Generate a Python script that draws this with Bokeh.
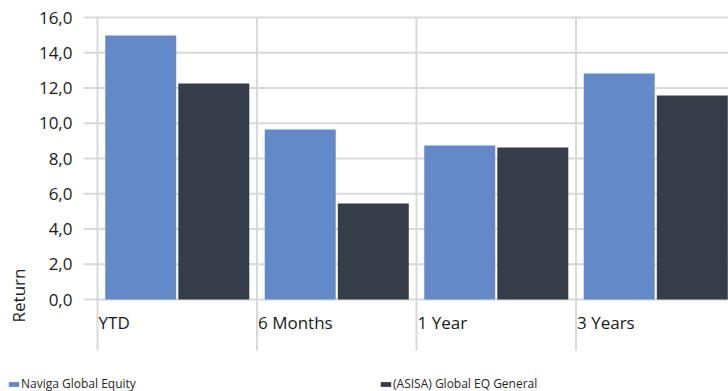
import math
from bokeh.plotting import figure
from bokeh.models import ColumnDataSource, Range1d, Label, Legend, LegendItem
from bokeh.core.properties import value
from bokeh.embed import file_html
from bokeh.resources import INLINE

categories = ["YTD", "6 Months", "1 Year", "3 Years"]
series_names = ["Naviga Global Equity", "(ASISA) Global EQ General"]
naviga = [14.98, 9.65, 8.74, 12.82]
asisa = [12.26, 5.45, 8.62, 11.57]
y_ticks = [0, 2, 4, 6, 8, 10, 12, 14, 16]
y_tick_labels = ["0,0", "2,0", "4,0", "6,0", "8,0", "10,0", "12,0", "14,0", "16,0"]

colors = ["#6389C8", "#343D48"]
GRID = "#D9D9D9"
TXT = "#1a1a1a"
FONT = "Open Sans"

# layout constants (data units: 1 category = 1.0; value axis in %)
X0, X1 = -0.6082, 3.956
Y0, Y1 = -5.220, 16.965
GRID_LEFT = -0.0878      # horizontal gridlines start a little left of first category line
CAT_BOTTOM = -2.894      # category separators extend below the value axis
TICK_X = -0.157          # right edge of value tick labels
CAT_LABEL_Y = -1.305

idx = list(range(len(categories)))
src = ColumnDataSource(dict(
    x1=[i + 0.5 - 0.229 for i in idx],
    x2=[i + 0.5 + 0.229 for i in idx],
    naviga=naviga, asisa=asisa,
))

p = figure(width=728, height=391, output_backend="svg", toolbar_location=None,
           x_range=Range1d(X0, X1), y_range=Range1d(Y0, Y1),
           min_border=0, x_axis_location=None, y_axis_location=None)
p.outline_line_color = None
p.grid.visible = False
p.background_fill_color = "white"
p.border_fill_color = "white"

# horizontal gridlines at value ticks
p.segment(x0=[GRID_LEFT] * len(y_ticks), x1=[X1] * len(y_ticks),
          y0=y_ticks, y1=y_ticks, line_color=GRID, line_width=2)
# vertical category separators
p.segment(x0=idx, x1=idx, y0=[y_ticks[-1]] * len(idx), y1=[CAT_BOTTOM] * len(idx),
          line_color=GRID, line_width=2)

# value tick labels
p.text(x=[TICK_X] * len(y_ticks), y=y_ticks, text=y_tick_labels,
       text_font=value(FONT), text_font_size="17px", text_color=TXT,
       text_align="right", text_baseline="middle")

r1 = p.vbar(x="x1", top="naviga", width=0.445, bottom=0, source=src,
            fill_color=colors[0], line_color=None)
r2 = p.vbar(x="x2", top="asisa", width=0.445, bottom=0, source=src,
            fill_color=colors[1], line_color=None)

# category labels
p.text(x=idx, y=[CAT_LABEL_Y] * len(idx), text=categories, x_offset=1,
       text_font=value(FONT), text_font_size="17px", text_color=TXT,
       text_align="left", text_baseline="middle")

# value axis title
p.add_layout(Label(x=-0.4953, y=0.227, text="Return", angle=math.pi / 2,
                   text_font=FONT, text_font_size="17px", text_color=TXT,
                   text_align="center", text_baseline="middle"))

legend_style = dict(orientation="horizontal", glyph_width=13, glyph_height=6,
                    label_standoff=1, label_height=14, spacing=0, padding=0,
                    margin=0, border_line_color=None, background_fill_alpha=0,
                    label_text_font=FONT, label_text_font_size="12px",
                    label_text_color="#262626")
leg1 = Legend(items=[LegendItem(label=series_names[0], renderers=[r1])],
              location=(7, -1), **legend_style)
leg2 = Legend(items=[LegendItem(label=series_names[1], renderers=[r2])],
              location=(379, -1), **legend_style)
p.add_layout(leg1)
p.add_layout(leg2)

open("out.html", "w").write(file_html(p, INLINE))
